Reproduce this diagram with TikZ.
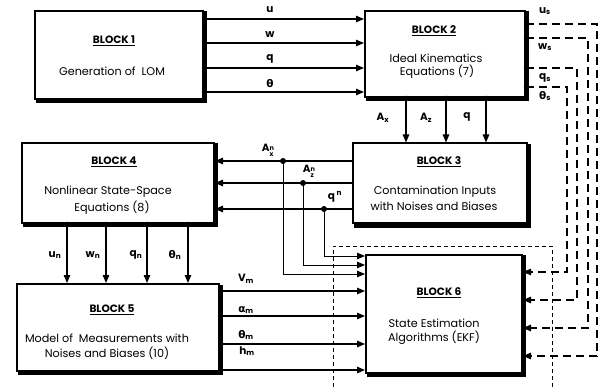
\documentclass[tikz,border=0pt]{standalone}
\usepackage{fontspec}
\setmainfont{Poppins}
\newfontfamily\gr{DejaVu Sans}
\usetikzlibrary{arrows.meta,calc}
\newcommand{\supsub}[3]{#1\raisebox{-2.6pt}{\fontsize{6.5}{6.5}\selectfont\begin{tabular}{@{}l@{}}#2\\[-0.6pt]#3\end{tabular}}}
\begin{document}
\begin{tikzpicture}[x={(1pt,0)},y={(0,-1pt)},
  blk/.style={draw, line width=2pt, fill=white, inner sep=0pt},
  shd/.style={line width=3.6pt},
  ttl/.style={font=\bfseries\fontsize{10.6}{12}\selectfont},
  txt/.style={font=\fontsize{11.2}{13}\selectfont, inner sep=0pt},
  lab/.style={font=\bfseries\fontsize{10.5}{11}\selectfont, inner sep=0pt},
  con/.style={line width=1.3pt, -{Triangle[length=8pt,width=6.5pt]}},
  thn/.style={con, line width=1pt},
  dsh/.style={con, line width=1.3pt, dash pattern=on 8pt off 5pt},
  dot/.style={circle, fill, inner sep=0pt, minimum size=6pt},
  sdot/.style={circle, fill, inner sep=0pt, minimum size=4.5pt}]
\useasboundingbox (0,0) rectangle (599,387);

% dashed open box
\draw[line width=0.8pt, dash pattern=on 4pt off 3pt] (333,387) |- (552,246) -- (552,387);

% blocks
\node[blk, minimum width=168pt, minimum height=88pt] (b1) at (119,55) {};
\node[blk, minimum width=160pt, minimum height=86pt] (b2) at (445,54) {};
\node[blk, minimum width=174pt, minimum height=80pt] (b3) at (440,183.5) {};
\node[blk, minimum width=192pt, minimum height=80pt] (b4) at (118,183) {};
\node[blk, minimum width=202pt, minimum height=87pt] (b5) at (118,327.5) {};
\node[blk, minimum width=156pt, minimum height=118pt] (b6) at (444,313.5) {};
\foreach \b in {b1,b2,b3,b4,b5,b6}
  \draw[shd] ($(\b.north east)+(1.6,1.5)$) -- ($(\b.south east)+(1.6,1.6)$) -- ($(\b.south west)+(1.5,1.6)$);

% texts
\node[ttl] (t1) at (114,41) {\underline{BLOCK 1}};
\node[txt] (d1) at (112,71) {Generation of \ LOM};
\node[ttl] (t2) at (434,31) {\underline{BLOCK 2}};
\node[txt] (d2a) at (436,58) {Ideal Kinematics};
\node[txt] (d2b) at (437,72) {Equations (7)};
\node[ttl] (t3) at (439,162) {\underline{BLOCK 3}};
\node[txt] (d3a) at (435,192) {Contamination Inputs};
\node[txt] (d3b) at (434,206) {with Noises and Biases};
\node[ttl] (t4) at (114,162) {\underline{BLOCK 4}};
\node[txt] (d4a) at (108,192) {Nonlinear State-Space};
\node[txt] (d4b) at (112,208) {Equations (8)};
\node[ttl] (t5) at (112,310) {\underline{BLOCK 5}};
\node[txt] (d5a) at (107,338) {Model of \ Measurements with};
\node[txt] (d5b) at (107,353) {Noises and Biases (10)};
\node[ttl] (t6) at (439,293) {\underline{BLOCK 6}};
\node[txt] (d6a) at (434,323) {State Estimation};
\node[txt] (d6b) at (434,338) {Algorithms (EKF)};

% block 1 -> block 2
\draw[con] (b1.east |- 0,19) -- (b2.west |- 0,19);
\draw[con] (b1.east |- 0,43) -- (b2.west |- 0,43);
\draw[con] (b1.east |- 0,68) -- (b2.west |- 0,68);
\draw[con] (b1.east |- 0,92) -- (b2.west |- 0,92);
\node[lab] (lu) at (270,10) {u};
\node[lab] (lw) at (270,35) {w};
\node[lab] (lq) at (270,59) {q};
\node[lab] (lt) at (270,84) {\gr θ};

% block 2 -> block 6 (dashed)
\node[sdot] (s1) at (b2.east |- 0,24) {};
\node[sdot] (s2) at (b2.east |- 0,38) {};
\node[sdot] (s3) at (b2.east |- 0,68) {};
\node[sdot] (s4) at (b2.east |- 0,87) {};
\draw[dsh] (s1.center) -- (597,24) |- (b6.east |- 0,356);
\draw[dsh] (s2.center) -- (588,38) |- (b6.east |- 0,328);
\draw[dsh] (s3.center) -- (577,68) |- (b6.east |- 0,300);
\draw[dsh] (s4.center) -- (567,87) |- (b6.east |- 0,272);
\node[lab] (lus) at (545,11) {u\textsubscript{s}};
\node[lab] (lws) at (545,47) {w\textsubscript{s}};
\node[lab] (lqs) at (545,78) {q\textsubscript{s}};
\node[lab] (lts) at (545,96) {{\gr θ}\textsubscript{s}};

% block 2 -> block 3
\node[sdot] (a1) at (b2.south -| 406,0) {};
\node[sdot] (a2) at (b2.south -| 446,0) {};
\node[sdot] (a3) at (b2.south -| 486,0) {};
\draw[con] (a1.center) -- (b3.north -| a1);
\draw[con] (a2.center) -- (b3.north -| a2);
\draw[con] (a3.center) -- (b3.north -| a3);
\node[lab] (lax) at (383,118) {A\textsubscript{x}};
\node[lab] (laz) at (426,118) {A\textsubscript{z}};
\node[lab] (laq) at (467,117) {q};

% block 3 -> block 4 and block 6
\draw[con] (b3.west |- 0,161) -- (b4.east |- 0,161);
\draw[con] (b3.west |- 0,183) -- (b4.east |- 0,183);
\draw[con] (b3.west |- 0,209) -- (b4.east |- 0,209);
\node[dot] (jx) at (283,161) {};
\node[dot] (jz) at (303,183) {};
\node[dot] (jq) at (324,209) {};
\draw[thn] (jq.center) |- (b6.west |- 0,256);
\draw[thn] (jz.center) |- (b6.west |- 0,265);
\draw[thn] (jx.center) |- (b6.west |- 0,274);
\node[lab] (lanx) at (268,151) {\supsub{A}{n}{x}};
\node[lab] (lanz) at (309,172) {\supsub{A}{n}{z}};
\node[lab] (lanq) at (335,197) {q\,\textsuperscript{n}};

% block 4 -> block 5
\node[sdot] (n1) at (b4.south -| 67,0) {};
\node[sdot] (n2) at (b4.south -| 106,0) {};
\node[sdot] (n3) at (b4.south -| 147,0) {};
\node[sdot] (n4) at (b4.south -| 188,0) {};
\draw[con] (n1.center) -- (b5.north -| n1);
\draw[con] (n2.center) -- (b5.north -| n2);
\draw[con] (n3.center) -- (b5.north -| n3);
\draw[con] (n4.center) -- (b5.north -| n4);
\node[lab] (lun) at (55,255) {u\textsubscript{n}};
\node[lab] (lwn) at (93,255) {w\textsubscript{n}};
\node[lab] (lqn) at (136,255) {q\textsubscript{n}};
\node[lab] (ltn) at (175,255) {{\gr θ}\textsubscript{n}};

% block 5 -> block 6
\draw[con] (b5.east |- 0,291) -- (b6.west |- 0,291);
\draw[con] (b5.east |- 0,316) -- (b6.west |- 0,316);
\draw[con] (b5.east |- 0,344) -- (b6.west |- 0,344);
\draw[con] (b5.east |- 0,370) -- (b6.west |- 0,370);
\node[lab] (lvm) at (246,279) {V\textsubscript{m}};
\node[lab] (lam) at (246,310) {{\gr α}\textsubscript{m}};
\node[lab] (lthm) at (246,335) {{\gr θ}\textsubscript{m}};
\node[lab] (lhm) at (247,351) {h\textsubscript{m}};
\end{tikzpicture}
\end{document}
